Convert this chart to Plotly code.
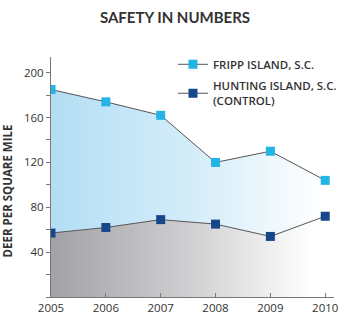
import plotly.graph_objects as go

years = [2005, 2006, 2007, 2008, 2009, 2010]
fripp = [185, 174, 162, 120, 130, 104]
hunting = [57, 62, 69, 65, 54, 72]
fripp_name = "FRIPP ISLAND, S.C."
hunting_name = "HUNTING ISLAND, S.C.<br>(CONTROL)"
y_tickvals = [0, 20, 40, 60, 80, 100, 120, 140, 160, 180, 200]
y_ticktext = ["", "", "40", "", "80", "", "120", "", "160", "", "200"]
y_title = "DEER PER SQUARE MILE"

line_style = dict(color="#555555", width=1)
fripp_marker = dict(symbol="square", size=9, color="#23b4e6")
hunting_marker = dict(symbol="square", size=9, color="#17478a")

fig = go.Figure()
fig.add_trace(go.Scatter(
    x=years, y=hunting, name=hunting_name, mode="lines+markers",
    line=line_style, marker=hunting_marker,
    fill="tozeroy",
    fillgradient=dict(type="horizontal",
                      colorscale=[[0, "#a2a2a6"], [0.5, "#cfcfd1"], [0.95, "#ffffff"], [1, "#ffffff"]]),
    showlegend=False,
))
fig.add_trace(go.Scatter(
    x=years, y=fripp, name=fripp_name, mode="lines+markers",
    line=line_style, marker=fripp_marker,
    fill="tonexty",
    fillgradient=dict(type="horizontal",
                      colorscale=[[0, "#b3def4"], [0.5, "#d3ecf9"], [1, "#ffffff"]]),
    showlegend=False,
))
# legend-only entries (no fill swatch)
fig.add_trace(go.Scatter(x=[None], y=[None], name=fripp_name, mode="lines+markers",
                         line=line_style, marker=fripp_marker, legendgroup="a"))
fig.add_trace(go.Scatter(x=[None], y=[None], name=hunting_name, mode="lines+markers",
                         line=line_style, marker=hunting_marker, legendgroup="b"))

fig.add_annotation(text=y_title, textangle=-90, showarrow=False,
                   xref="paper", yref="paper",
                   x=(6.5 - 51) / 283, xanchor="center",
                   y=(297 - 191) / 240, yanchor="middle",
                   font=dict(family="Open Sans", size=11.5, color="#333333", weight=700))

fig.update_layout(
    width=350, height=330,
    margin=dict(l=51, r=16, t=57, b=33, autoexpand=False),
    paper_bgcolor="white", plot_bgcolor="white",
    font=dict(family="Open Sans", color="#333333"),
    title=dict(text="<b>SAFETY IN NUMBERS</b>", x=0.5, xanchor="center",
               y=1 - 18 / 330, yanchor="middle",
               font=dict(family="Lato", size=15, color="#333333")),
    showlegend=True,
    legend=dict(x=0.431, y=1.03, xanchor="left", yanchor="top",
                traceorder="grouped", tracegroupgap=3,
                bgcolor="rgba(0,0,0,0)",
                font=dict(family="Open Sans", size=11.5, color="#333333", weight=600)),
    xaxis=dict(range=[2005, 2010.16], tickvals=years, ticks="inside", ticklen=4,
               tickcolor="#777777", showline=True, linecolor="#777777", linewidth=1,
               showgrid=False, zeroline=False, automargin=False,
               tickfont=dict(size=11.5, color="#333333")),
    yaxis=dict(range=[0, 214], tickvals=y_tickvals, ticktext=y_ticktext,
               ticks="outside", ticklen=4, tickcolor="#777777",
               showline=True, linecolor="#777777", linewidth=1,
               showgrid=False, zeroline=False, automargin=False,
               tickfont=dict(size=11.5, color="#333333")),
)
fig.write_html("out.html")
